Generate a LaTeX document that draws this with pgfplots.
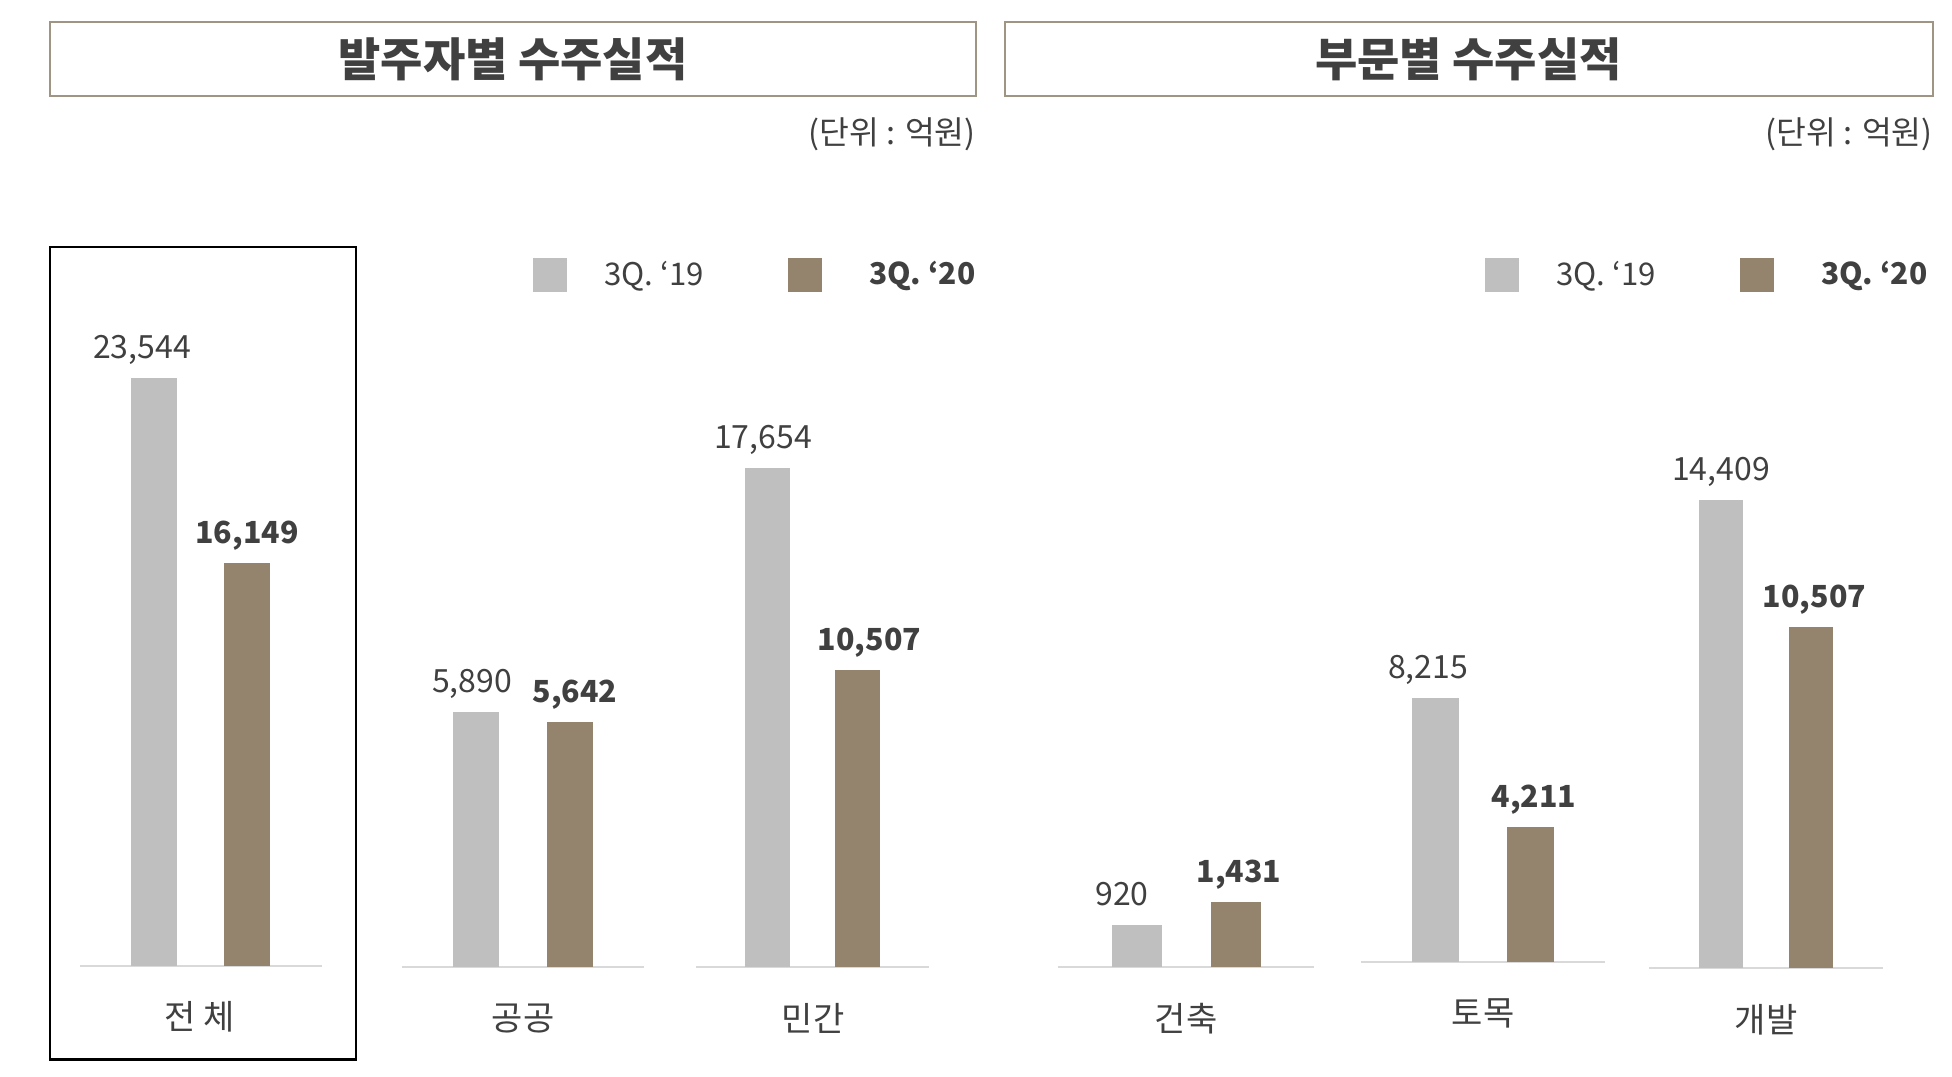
\documentclass[border=0pt]{standalone}
\usepackage{pgfplots}
\pgfplotsset{compat=1.18}
\usepackage{fontspec}
\setmainfont{Noto Sans CJK KR}
\definecolor{g19}{HTML}{BFBFBF}
\definecolor{b20}{HTML}{94846E}
\definecolor{txt}{HTML}{404040}
\definecolor{frame}{HTML}{A09482}
\definecolor{basel}{HTML}{D9D9D9}
\newcommand{\numfont}{\fontsize{16}{19}\selectfont}
\newcommand{\numbold}{\fontsize{15.2}{19}\selectfont\bfseries}
\newcommand{\catfont}{\fontsize{17}{20}\selectfont}
\newcommand{\legfont}{\fontsize{15.6}{19}\selectfont}
\pgfplotsset{
  mini/.style={
    x=0.5pt, xmin=0, xmax=1952, ymin=0,
    scale only axis, anchor=south west,
    axis line style={draw=none}, tick style={draw=none},
    major tick length=0pt,
    ytick=\empty, clip=false,
    ybar, bar shift=0pt,
    nodes near coords,
    every node near coord/.append style={anchor=base, yshift=9.75pt, font=\numfont, text=txt},
    xticklabel style={font=\catfont, text=txt, anchor=center, yshift=-25.5pt},
    /pgf/number format/1000 sep={,},
    /pgf/number format/fixed,
    /pgf/number format/precision=0,
    /pgf/number format/assume math mode=true,
  },
  gbar/.style={fill=g19, draw=none, forget plot},
  bbar/.style={fill=b20, draw=none, forget plot,
    every node near coord/.append style={font=\numbold}},
  leg/.style={
    legend columns=2,
    legend style={draw=none, fill=none, inner sep=0pt, nodes={inner sep=0pt},
      font=\legfont, text=txt,
      /tikz/every odd column/.append style={column sep=18.5pt},
      /tikz/every even column/.append style={column sep=43.5pt}},
  },
}
\begin{document}
\begin{tikzpicture}
\useasboundingbox (0,0) rectangle (976pt,538pt);
% titles
\draw[frame, line width=1pt] (25pt,527pt) rectangle (488pt,490pt);
\draw[frame, line width=1pt] (502.5pt,527pt) rectangle (966.5pt,490pt);
\node[text=txt, font=\fontsize{23}{26}\selectfont\bfseries] at (256.5pt,508.5pt) {발주자별 수주실적};
\node[text=txt, font=\fontsize{23}{26}\selectfont\bfseries] at (734.25pt,508.5pt) {부문별 수주실적};
\node[text=txt, font=\fontsize{16.2}{19}\selectfont, anchor=east, inner sep=0pt] at (488pt,471pt) {(단위 : 억원)};
\node[text=txt, font=\fontsize{16.2}{19}\selectfont, anchor=east, inner sep=0pt] at (966.5pt,471pt) {(단위 : 억원)};
% box around total
\draw[black, line width=1.2pt] (25pt,414.5pt) rectangle (178pt,8.25pt);

% chart 1: 전체
\begin{axis}[mini, leg, at={(0pt,55.1pt)}, y=0.01248pt,
  xtick={200}, xticklabels={전 체},
  legend style={at={(axis cs:533,27697)}, anchor=west}]
\draw[basel, line width=1pt] (axis cs:80,0) -- (axis cs:322,0);
\addplot[gbar, bar width=46, every node near coord/.append style={xshift=-6pt}] coordinates {(154,23544)};
\addplot[bbar, bar width=46] coordinates {(247,16149)};
\addlegendimage{legend image code/.code={\fill[g19] (0pt,-8.25pt) rectangle (16.5pt,8.25pt);}}
\addlegendentry{\makebox[48.5pt][l]{3Q. ‘19}}
\addlegendimage{legend image code/.code={\fill[b20] (0pt,-8.25pt) rectangle (16.5pt,8.25pt);}}
\addlegendentry{\hspace{5pt}\fontsize{15}{19}\selectfont\bfseries 3Q. ‘20}
\end{axis}

% chart 2: 공공
\begin{axis}[mini, at={(0pt,54.35pt)}, y=0.02170pt,
  xtick={523}, xticklabels={공공}]
\draw[basel, line width=1pt] (axis cs:402,0) -- (axis cs:644,0);
\addplot[gbar, bar width=46, every node near coord/.append style={xshift=-2pt}] coordinates {(476,5890)};
\addplot[bbar, bar width=46, every node near coord/.append style={xshift=2.5pt}] coordinates {(570,5642)};
\end{axis}

% chart 3: 민간
\begin{axis}[mini, at={(0pt,54.35pt)}, y=0.014135pt,
  xtick={813}, xticklabels={민간}]
\draw[basel, line width=1pt] (axis cs:696,0) -- (axis cs:929,0);
\addplot[gbar, bar width=45, every node near coord/.append style={xshift=-2.3pt}] coordinates {(767.5,17654)};
\addplot[bbar, bar width=45, every node near coord/.append style={xshift=6pt}] coordinates {(857.5,10507)};
\end{axis}

% chart 4: 건축
\begin{axis}[mini, leg, at={(0pt,54.35pt)}, y=0.02295pt,
  xtick={1186}, xticklabels={건축},
  legend style={at={(axis cs:1485,15094)}, anchor=west}]
\draw[basel, line width=1pt] (axis cs:1058,0) -- (axis cs:1314,0);
\addplot[gbar, bar width=50, every node near coord/.append style={xshift=-7.5pt}] coordinates {(1137,920)};
\addplot[bbar, bar width=50, every node near coord/.append style={xshift=1.5pt}] coordinates {(1236,1431)};
\addlegendimage{legend image code/.code={\fill[g19] (0pt,-8.25pt) rectangle (16.5pt,8.25pt);}}
\addlegendentry{\makebox[48.5pt][l]{3Q. ‘19}}
\addlegendimage{legend image code/.code={\fill[b20] (0pt,-8.25pt) rectangle (16.5pt,8.25pt);}}
\addlegendentry{\hspace{5pt}\fontsize{15}{19}\selectfont\bfseries 3Q. ‘20}
\end{axis}

% chart 5: 토목
\begin{axis}[mini, at={(0pt,56.8pt)}, y=0.0161pt,
  xtick={1483}, xticklabels={토목}]
\draw[basel, line width=1pt] (axis cs:1361,0) -- (axis cs:1605,0);
\addplot[gbar, bar width=47, every node near coord/.append style={xshift=-3.75pt}] coordinates {(1435.5,8215)};
\addplot[bbar, bar width=47, every node near coord/.append style={xshift=1.75pt}] coordinates {(1530.5,4211)};
\end{axis}

% chart 6: 개발
\begin{axis}[mini, at={(0pt,53.85pt)}, y=0.01625pt,
  xtick={1766}, xticklabels={개발}]
\draw[basel, line width=1pt] (axis cs:1649,0) -- (axis cs:1883,0);
\addplot[gbar, bar width=44] coordinates {(1721,14409)};
\addplot[bbar, bar width=44, every node near coord/.append style={xshift=1.75pt}] coordinates {(1811,10507)};
\end{axis}
\end{tikzpicture}
\end{document}
